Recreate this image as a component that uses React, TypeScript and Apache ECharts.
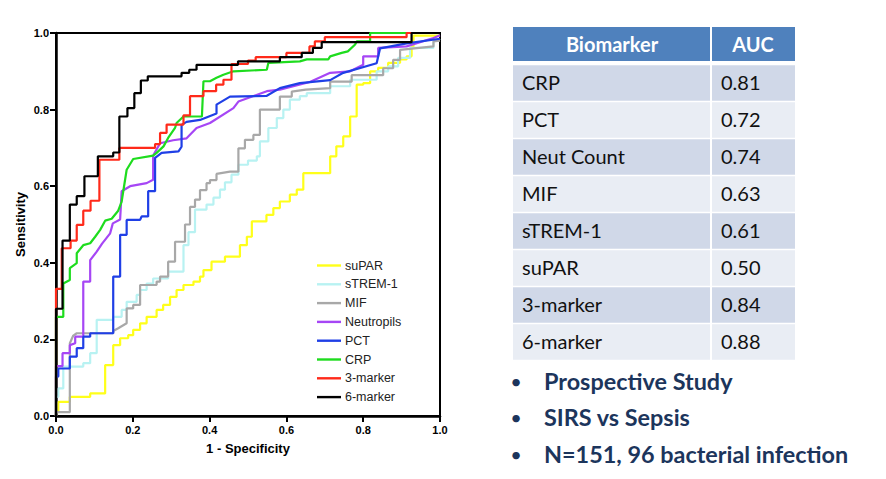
import React, { useEffect, useRef } from "react";
import * as echarts from "echarts";

const seriesNames = ["suPAR", "sTREM-1", "MIF", "Neutropils", "PCT", "CRP", "3-marker", "6-marker"];
const seriesColors = ["#FFFF1A", "#B8F2F2", "#A8A8A8", "#A646F5", "#1F3FE6", "#1EDC1E", "#FF2A1A", "#000000"];

const suPAR = [[0,0],[0,0.01],[0.006,0.01],[0.006,0.037],[0.036,0.037],[0.036,0.05],[0.089,0.05],[0.089,0.059],[0.128,0.059],[0.128,0.133],[0.149,0.133],[0.149,0.185],[0.167,0.185],[0.167,0.203],[0.188,0.203],[0.188,0.211],[0.201,0.211],[0.201,0.225],[0.219,0.225],[0.219,0.242],[0.236,0.242],[0.236,0.259],[0.262,0.259],[0.262,0.277],[0.279,0.277],[0.279,0.29],[0.297,0.29],[0.297,0.311],[0.314,0.311],[0.314,0.329],[0.332,0.329],[0.332,0.342],[0.358,0.342],[0.358,0.351],[0.375,0.351],[0.375,0.364],[0.384,0.364],[0.384,0.381],[0.405,0.381],[0.405,0.403],[0.44,0.403],[0.44,0.416],[0.479,0.416],[0.479,0.446],[0.497,0.446],[0.497,0.468],[0.51,0.468],[0.51,0.508],[0.548,0.508],[0.548,0.525],[0.566,0.525],[0.566,0.543],[0.583,0.543],[0.583,0.56],[0.609,0.56],[0.609,0.578],[0.627,0.578],[0.627,0.591],[0.644,0.591],[0.644,0.634],[0.714,0.634],[0.714,0.678],[0.73,0.678],[0.73,0.704],[0.748,0.704],[0.748,0.73],[0.766,0.73],[0.766,0.782],[0.783,0.782],[0.783,0.865],[0.8,0.865],[0.8,0.869],[0.818,0.869],[0.818,0.9],[0.839,0.9],[0.839,0.909],[0.865,0.909],[0.865,0.922],[0.896,0.922],[0.896,0.931],[0.913,0.931],[0.913,0.939],[0.926,0.939],[0.926,0.965],[0.931,0.965],[0.931,0.993],[1,0.993]];

const sTREM1 = [[0,0],[0,0.05],[0.006,0.05],[0.006,0.072],[0.019,0.072],[0.019,0.129],[0.071,0.129],[0.071,0.138],[0.089,0.138],[0.089,0.164],[0.106,0.164],[0.106,0.251],[0.149,0.251],[0.149,0.259],[0.171,0.259],[0.171,0.277],[0.184,0.277],[0.184,0.298],[0.21,0.298],[0.21,0.316],[0.219,0.316],[0.219,0.329],[0.236,0.329],[0.236,0.346],[0.253,0.346],[0.253,0.359],[0.292,0.359],[0.292,0.377],[0.332,0.377],[0.332,0.446],[0.345,0.446],[0.345,0.48],[0.362,0.48],[0.362,0.539],[0.392,0.539],[0.392,0.552],[0.41,0.552],[0.41,0.57],[0.427,0.57],[0.427,0.591],[0.44,0.591],[0.44,0.61],[0.457,0.61],[0.457,0.63],[0.475,0.63],[0.475,0.656],[0.5,0.656],[0.5,0.667],[0.523,0.667],[0.523,0.678],[0.531,0.678],[0.531,0.717],[0.553,0.717],[0.553,0.752],[0.575,0.752],[0.575,0.778],[0.592,0.778],[0.592,0.8],[0.609,0.8],[0.609,0.826],[0.635,0.826],[0.635,0.835],[0.653,0.835],[0.653,0.843],[0.714,0.843],[0.714,0.861],[0.766,0.861],[0.766,0.878],[0.835,0.878],[0.835,0.9],[0.865,0.9],[0.865,0.913],[0.891,0.913],[0.891,0.935],[0.922,0.935],[0.922,0.961],[0.983,0.961],[0.983,0.978],[1,0.985]];

const MIF = [[0,0],[0,0.01],[0.036,0.01],[0.036,0.19],[0.045,0.21],[0.054,0.216],[0.149,0.216],[0.149,0.222],[0.162,0.229],[0.184,0.242],[0.184,0.281],[0.201,0.281],[0.201,0.29],[0.219,0.29],[0.219,0.342],[0.262,0.342],[0.262,0.351],[0.271,0.351],[0.271,0.364],[0.292,0.364],[0.292,0.403],[0.31,0.403],[0.31,0.455],[0.336,0.455],[0.336,0.5],[0.349,0.5],[0.349,0.546],[0.362,0.546],[0.362,0.565],[0.375,0.565],[0.375,0.59],[0.392,0.59],[0.392,0.608],[0.401,0.608],[0.401,0.616],[0.418,0.616],[0.418,0.632],[0.453,0.638],[0.475,0.638],[0.475,0.699],[0.492,0.699],[0.492,0.721],[0.514,0.721],[0.514,0.734],[0.531,0.734],[0.531,0.8],[0.583,0.8],[0.583,0.834],[0.614,0.834],[0.614,0.847],[0.65,0.852],[0.714,0.856],[0.714,0.873],[0.77,0.873],[0.77,0.89],[0.852,0.89],[0.852,0.908],[0.878,0.908],[0.878,0.93],[0.896,0.93],[0.896,0.956],[0.983,0.965],[0.983,0.978],[1,0.98]];

const neutrophils = [[0,0],[0,0.13],[0.017,0.13],[0.017,0.164],[0.036,0.164],[0.036,0.185],[0.05,0.19],[0.05,0.207],[0.071,0.207],[0.071,0.351],[0.089,0.351],[0.089,0.407],[0.106,0.429],[0.12,0.45],[0.141,0.477],[0.148,0.503],[0.167,0.513],[0.171,0.587],[0.193,0.6],[0.236,0.608],[0.253,0.617],[0.253,0.68],[0.271,0.712],[0.305,0.72],[0.34,0.725],[0.366,0.752],[0.401,0.765],[0.462,0.804],[0.475,0.821],[0.549,0.848],[0.583,0.852],[0.661,0.872],[0.714,0.896],[0.766,0.9],[0.8,0.917],[0.8,0.939],[0.839,0.939],[0.839,0.961],[0.913,0.965],[0.983,0.987],[1,0.994]];

const PCT = [[0,0],[0,0.103],[0.006,0.103],[0.006,0.124],[0.036,0.124],[0.036,0.155],[0.054,0.155],[0.054,0.177],[0.071,0.177],[0.071,0.207],[0.089,0.207],[0.089,0.216],[0.149,0.216],[0.149,0.364],[0.167,0.364],[0.167,0.473],[0.184,0.473],[0.184,0.512],[0.219,0.512],[0.223,0.521],[0.24,0.521],[0.24,0.587],[0.258,0.587],[0.258,0.674],[0.275,0.687],[0.319,0.691],[0.327,0.703],[0.327,0.76],[0.34,0.768],[0.375,0.773],[0.418,0.79],[0.418,0.813],[0.453,0.834],[0.549,0.836],[0.583,0.856],[0.635,0.869],[0.714,0.877],[0.748,0.896],[0.835,0.921],[0.844,0.96],[0.913,0.973],[1,0.985]];

const CRP = [[0,0],[0,0.259],[0.019,0.259],[0.019,0.346],[0.036,0.355],[0.036,0.386],[0.054,0.399],[0.054,0.425],[0.071,0.446],[0.089,0.451],[0.102,0.468],[0.115,0.486],[0.128,0.51],[0.145,0.515],[0.162,0.536],[0.171,0.56],[0.184,0.643],[0.201,0.671],[0.253,0.68],[0.262,0.687],[0.28,0.704],[0.292,0.726],[0.31,0.752],[0.314,0.765],[0.332,0.782],[0.38,0.782],[0.384,0.874],[0.401,0.874],[0.418,0.883],[0.436,0.891],[0.462,0.9],[0.549,0.904],[0.553,0.922],[0.635,0.926],[0.653,0.931],[0.709,0.931],[0.714,0.939],[0.744,0.948],[0.76,0.952],[0.779,0.97],[0.783,0.978],[0.818,0.978],[0.818,1],[1,1]];

const marker3 = [[0,0],[0,0.332],[0.015,0.332],[0.015,0.438],[0.038,0.438],[0.038,0.458],[0.054,0.458],[0.054,0.499],[0.071,0.499],[0.071,0.536],[0.09,0.536],[0.09,0.562],[0.113,0.562],[0.113,0.669],[0.165,0.669],[0.165,0.7],[0.258,0.7],[0.258,0.71],[0.271,0.71],[0.271,0.739],[0.288,0.739],[0.288,0.761],[0.332,0.761],[0.332,0.785],[0.349,0.785],[0.349,0.835],[0.384,0.835],[0.384,0.848],[0.417,0.848],[0.417,0.865],[0.436,0.865],[0.436,0.878],[0.457,0.878],[0.457,0.919],[0.5,0.919],[0.5,0.928],[0.52,0.928],[0.52,0.937],[0.6,0.937],[0.6,0.948],[0.66,0.948],[0.66,0.965],[0.674,0.965],[0.674,0.978],[0.7,0.978],[0.7,0.989],[0.913,0.989],[0.913,1],[1,1]];

const marker6 = [[0,0],[0,0.28],[0.017,0.28],[0.017,0.458],[0.036,0.458],[0.036,0.552],[0.054,0.552],[0.054,0.574],[0.074,0.574],[0.074,0.626],[0.109,0.626],[0.109,0.678],[0.149,0.678],[0.149,0.688],[0.165,0.688],[0.165,0.782],[0.186,0.782],[0.186,0.804],[0.204,0.804],[0.204,0.843],[0.221,0.843],[0.221,0.876],[0.239,0.876],[0.239,0.887],[0.327,0.887],[0.327,0.896],[0.347,0.896],[0.347,0.904],[0.366,0.904],[0.366,0.917],[0.474,0.917],[0.474,0.926],[0.583,0.926],[0.583,0.937],[0.64,0.937],[0.64,0.948],[0.669,0.948],[0.669,0.961],[0.692,0.961],[0.692,0.976],[0.926,0.976],[0.926,1],[1,1]];

const seriesData = [suPAR, sTREM1, MIF, neutrophils, PCT, CRP, marker3, marker6];

const tableHeader = ["Biomarker", "AUC"];
const tableBiomarkers = ["CRP", "PCT", "Neut Count", "MIF", "sTREM-1", "suPAR", "3-marker", "6-marker"];
const tableAUC = ["0.81", "0.72", "0.74", "0.63", "0.61", "0.50", "0.84", "0.88"];
const bullets = ["Prospective Study", "SIRS vs Sepsis", "N=151, 96 bacterial infection"];

function buildGraphics() {
  const g: any[] = [];
  const tLeft = 513, tDiv = 711, tRight = 795;
  const headTop = 27, headH = 34;
  const rowTop = 65.3, rowPitch = 37, rowH = 35.5;
  g.push({ type: "rect", shape: { x: tLeft, y: headTop, width: tDiv - tLeft - 1, height: headH }, style: { fill: "#4F81BD" } });
  g.push({ type: "rect", shape: { x: tDiv + 1, y: headTop, width: tRight - tDiv - 1, height: headH }, style: { fill: "#4F81BD" } });
  const font = "Lato, 'Noto Sans', sans-serif";
  g.push({ type: "text", style: { text: tableHeader[0], x: (tLeft + tDiv) / 2, y: headTop + headH / 2, align: "center", verticalAlign: "middle", fill: "#ffffff", fontSize: 20, fontWeight: "bold", fontFamily: font } });
  g.push({ type: "text", style: { text: tableHeader[1], x: (tDiv + tRight) / 2, y: headTop + headH / 2, align: "center", verticalAlign: "middle", fill: "#ffffff", fontSize: 20, fontWeight: "bold", fontFamily: font } });
  tableBiomarkers.forEach((name, i) => {
    const y = rowTop + i * rowPitch;
    const fill = i % 2 === 0 ? "#D0D8E8" : "#E9EDF4";
    g.push({ type: "rect", shape: { x: tLeft, y, width: tDiv - tLeft - 1, height: rowH }, style: { fill } });
    g.push({ type: "rect", shape: { x: tDiv + 1, y, width: tRight - tDiv - 1, height: rowH }, style: { fill } });
    g.push({ type: "text", style: { text: name, x: 522, y: y + rowH / 2 - 1.5, align: "left", verticalAlign: "middle", fill: "#111111", fontSize: 20, fontFamily: font } });
    g.push({ type: "text", style: { text: tableAUC[i], x: 721, y: y + rowH / 2 - 1.5, align: "left", verticalAlign: "middle", fill: "#111111", fontSize: 20, fontFamily: font } });
  });
  const bulletY = [380.7, 417.3, 454];
  bullets.forEach((b, i) => {
    g.push({ type: "text", style: { text: "•", x: 516, y: bulletY[i], align: "center", verticalAlign: "middle", fill: "#1C355C", fontSize: 20, fontFamily: font } });
    g.push({ type: "text", style: { text: b, x: 544, y: bulletY[i], align: "left", verticalAlign: "middle", fill: "#1C355C", fontSize: 23.4, fontWeight: "bold", fontFamily: font } });
  });
  return g;
}

export default function App() {
  const ref = useRef<HTMLDivElement>(null);
  useEffect(() => {
    if (!ref.current) return;
    const chart = echarts.init(ref.current, null, { renderer: "svg" });
    const axisFont = "Arial, 'Liberation Sans', sans-serif";
    const axisCommon = {
      type: "value",
      min: 0,
      max: 1,
      interval: 0.2,
      nameLocation: "middle",
      nameTextStyle: { fontSize: 13, fontWeight: "bold", color: "#000", fontFamily: axisFont },
      axisLine: { show: true, lineStyle: { color: "#000", width: 2.5 } },
      axisTick: { show: true, inside: false, length: 6, lineStyle: { color: "#000", width: 2 } },
      axisLabel: { formatter: (v: number) => v.toFixed(1), fontSize: 11, fontWeight: "bold", color: "#000", fontFamily: axisFont },
      splitLine: { show: false },
    };
    chart.setOption({
      animation: false,
      backgroundColor: "#ffffff",
      grid: { left: 56, top: 33, right: 446, bottom: 63, show: true, borderColor: "#000", borderWidth: 2, backgroundColor: "transparent" },
      xAxis: { ...axisCommon, name: "1 - Specificity", nameGap: 26, axisLabel: { ...axisCommon.axisLabel, margin: 8 } },
      yAxis: { ...axisCommon, name: "Sensitivity", nameGap: 29, nameRotate: 90, axisLabel: { ...axisCommon.axisLabel, margin: 7 } },
      legend: {
        orient: "vertical",
        left: 317,
        top: 259,
        padding: 0,
        icon: "path://M0,0H24V2.4H0Z",
        itemWidth: 24,
        itemHeight: 12,
        itemGap: 5.8,
        textStyle: { fontSize: 12.5, color: "#222", fontFamily: axisFont, lineHeight: 12, padding: [0, 0, 0, -1] },
        data: seriesNames,
      },
      series: seriesNames.map((name, i) => ({
        name,
        type: "line",
        data: seriesData[i],
        symbol: "none",
        color: seriesColors[i],
        lineStyle: { width: 2.2, color: seriesColors[i] },
        z: 2 + i,
      })),
      graphic: buildGraphics(),
    });
    return () => chart.dispose();
  }, []);
  return <div ref={ref} style={{ position: "absolute", left: 0, top: 0, width: 886, height: 479 }} />;
}
